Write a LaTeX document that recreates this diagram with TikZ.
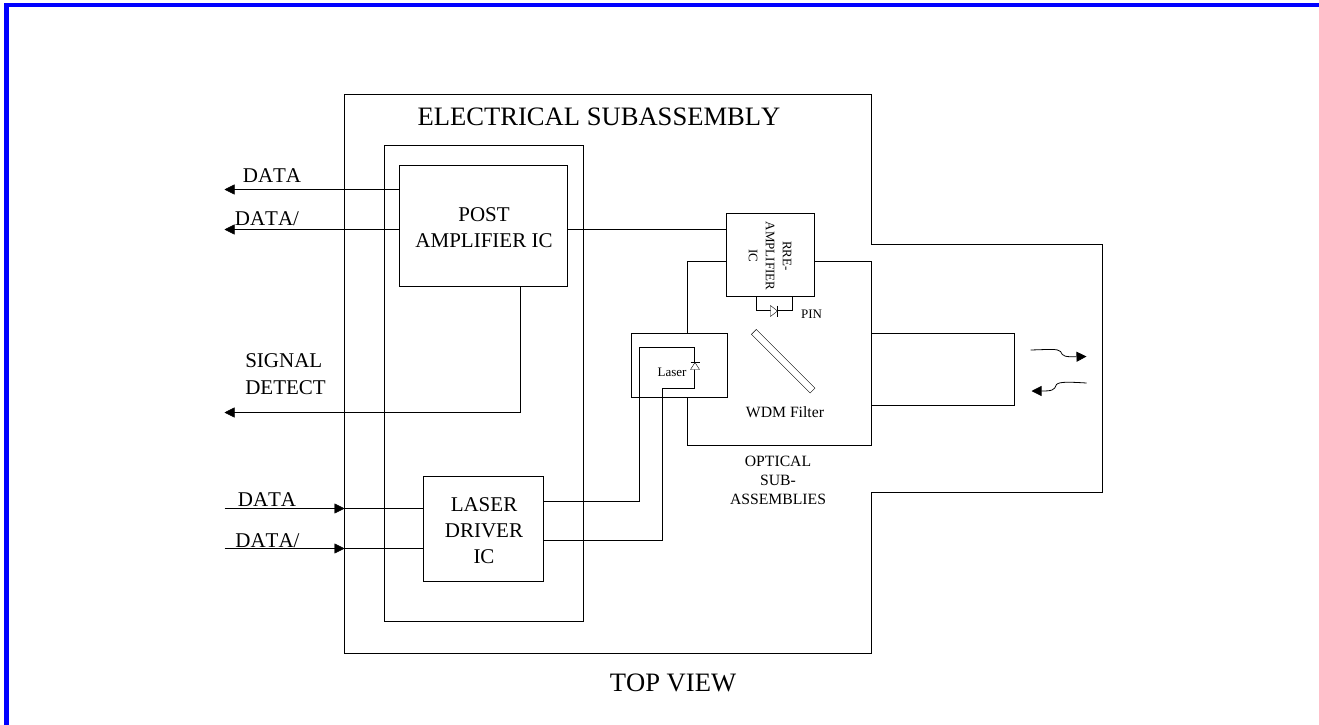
\documentclass[tikz,border=0pt]{standalone}
\usepackage{xcolor}
\usepackage{fontspec}
\setmainfont[Kerning=Off]{Liberation Serif}
\usepackage{tikz}
\usetikzlibrary{arrows.meta, positioning}
\tikzset{
>={Triangle[length=10pt,width=10pt]}, % arrow heads
line width=1pt,
box/.style={draw, rectangle, inner sep=0pt, align=center},
diode/.style={draw, fill=white},
bigtext/.style={font=\fontsize{26.6}{28}\selectfont},
midtext/.style={align=center, font=\fontsize{21}{27}\selectfont},
icetext/.style={align=center, font=\fontsize{21}{26}\selectfont},
smalltext/.style={align=center, font=\fontsize{13}{17}\selectfont},
filtertext/.style={align=center, font=\fontsize{15.7}{19}\selectfont},
}

\begin{document}
\begin{tikzpicture}[x=1pt,y=-1pt]
        \useasboundingbox (0.5,0.5) rectangle (1319.5,725.5);
        \fill[blue] (4.5,3.5) rectangle (1319.5,7.5);
        \fill[blue] (4.5,3.5) rectangle (9.5,725.5);

        % housing
        \draw (345,95) -- (872,95) -- (872,245) -- (1103,245) -- (1103,493)
              -- (872,493) -- (872,654) -- (345,654) -- cycle;
        \node[box, minimum width=199pt, minimum height=476pt] (board) at (484.5,384) {};
        \node[box, minimum width=168pt, minimum height=121pt] (postamp) at (484,226.5) {};
        \node[box, minimum width=120pt, minimum height=105pt] (driver) at (484,529.5) {};
        \node[box, minimum width=88pt, minimum height=83pt] (preamp) at (771,255.5) {};
        \node[smalltext, rotate=-90] (preamptext) at (770.5,256.5) {RRE-\\AMPLIFIER\\IC};
        \node[box, minimum width=96pt, minimum height=64pt] (laser) at (680,366) {};
        \node[box, minimum width=143pt, minimum height=72pt] (ferrule) at (943.5,370) {};
        \node[box, rotate=-45, minimum width=83pt, minimum height=7pt] (filter) at (783.7,361.7) {};

        % labels
        \node[bigtext] (title) at (599.5,117) {ELECTRICAL SUBASSEMBLY};
        \node[bigtext] (topview) at (673.5,683) {TOP VIEW};
        \node[icetext] (postamptext) at (484.5,228.5) {POST\\AMPLIFIER IC};
        \node[icetext] (drivertext) at (484.5,531.5) {LASER\\DRIVER\\IC};
        \node[midtext] (dataouta) at (272.5,176.5) {DATA};
        \node[midtext] (dataoutb) at (267.5,219.5) {DATA/};
        \node[midtext, align=left] (signal) at (286,375) {SIGNAL\\DETECT};
        \node[midtext] (dataina) at (267.5,500.5) {DATA};
        \node[midtext] (datainb) at (268,541.5) {DATA/};
        \node[smalltext] (lasertext) at (672.5,372.5) {Laser};
        \node[smalltext] (pin) at (812,315) {PIN};
        \node[filtertext] (wdm) at (785.5,412.5) {WDM Filter};
        \node[filtertext] (optical) at (778.5,480.5) {OPTICAL\\SUB-\\ASSEMBLIES};

        % free ends
        \coordinate (outa) at (225,190);
        \coordinate (outb) at (225,230);
        \coordinate (outc) at (225,413);
        \coordinate (ina) at (225,509);
        \coordinate (inb) at (225,549);
        \coordinate (hita) at (345,509);
        \coordinate (hitb) at (345,549);
        \coordinate (opta) at (688,262);
        \coordinate (optb) at (872,262);
        \coordinate (optc) at (872,446);
        \coordinate (optd) at (688,446);
        \coordinate (loopa) at (640,348);
        \coordinate (loopb) at (695,348);
        \coordinate (loopc) at (695,389);
        \coordinate (loopd) at (663,389);
        \coordinate (pina) at (757,311);
        \coordinate (pinb) at (793,311);

        \draw[->] (postamp.west |- outa) -- (outa);
        \draw[->] (postamp.west |- outb) -- (outb);
        \draw[->] (postamp.south -| 521,0) |- (outc);
        \draw[->] (ina) -- (hita);
        \draw[->] (inb) -- (hitb);
        \draw (hita) -- (driver.west |- hita);
        \draw (hitb) -- (driver.west |- hitb);
        \draw (postamp.east |- 0,230) -- (preamp.west |- 0,230);

        % optical subassembly
        \draw (preamp.west |- opta) -- (opta) -- (opta |- laser.north);
        \draw (opta |- laser.south) -- (optd) -- (optc) -- (optb) -- (preamp.east |- optb);

        % laser wiring
        \draw (driver.east |- 0,502) -| (loopa) -- (loopb) -- (loopc) -- (loopd) -- (loopd |- 0,541) -- (driver.east |- 0,541);
        \draw[diode] (695.5,363) -- (691,370) -- (700,370) -- cycle;
        \draw (691,363) -- (700,363);

        % pin diode
        \draw (preamp.south -| pina) |- (pinb) -- (preamp.south -| pinb);
        \draw[diode] (778,311.5) -- (771,306) -- (771,317) -- cycle;
        \draw (778,306) -- (778,317);

        % light in and out
        \coordinate (txa) at (1031,350.5);
        \coordinate (txb) at (1087,357);
        \coordinate (rxa) at (1087,383.5);
        \coordinate (rxb) at (1032,391.5);
        \draw[->, line width=0.8pt] (txa) .. controls (1050,350) and (1058,349) .. (1061,352)
              .. controls (1063,357) and (1066,357.5) .. (txb);
        \draw[->, line width=0.8pt] (rxa) .. controls (1070,382.5) and (1060,382) .. (1057,385)
              .. controls (1055,391) and (1052,391.5) .. (rxb);
\end{tikzpicture}
\end{document}
